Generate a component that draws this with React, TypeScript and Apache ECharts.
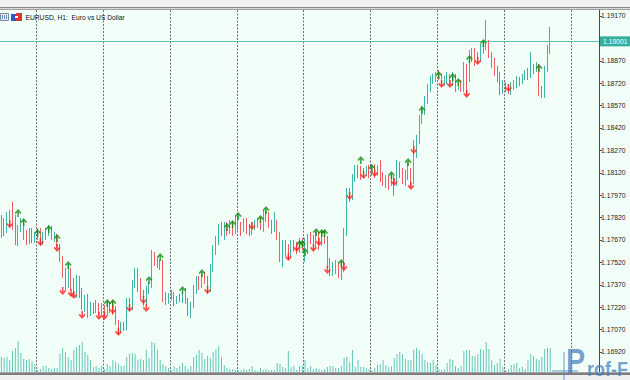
import React, { useEffect, useRef } from "react";
import * as echarts from "echarts";

const OPEN = [
  1.17724, 1.17791, 1.17737, 1.17804, 1.17831, 1.17764, 1.1765, 1.1775, 1.17791, 1.17703,
  1.1767, 1.17724, 1.17684, 1.17697, 1.17737, 1.17657, 1.17697, 1.17724, 1.1775, 1.17684,
  1.17697, 1.1763, 1.1755, 1.17456, 1.17369, 1.17469, 1.17389, 1.17322, 1.17402, 1.17335,
  1.17235, 1.17282, 1.17201, 1.17228, 1.17201, 1.17235, 1.17188, 1.17215, 1.17181, 1.17235,
  1.17208, 1.17188, 1.17121, 1.17067, 1.17101, 1.17081, 1.17255, 1.17215, 1.17369, 1.17456,
  1.17389, 1.17295, 1.17255, 1.17335, 1.17376, 1.17563, 1.17523, 1.17509, 1.17523, 1.17302,
  1.17268, 1.17295, 1.17315, 1.17255, 1.17282, 1.17268, 1.17322, 1.17268, 1.17201, 1.17235,
  1.17335, 1.17402, 1.17369, 1.17429, 1.17402, 1.17349, 1.17483, 1.17603, 1.1767, 1.1775,
  1.17724, 1.17764, 1.17737, 1.17777, 1.17724, 1.17791, 1.1777, 1.17737, 1.17791, 1.1775,
  1.17724, 1.1775, 1.17777, 1.17791, 1.17764, 1.17844, 1.17817, 1.17777, 1.1775, 1.17791,
  1.17703, 1.17617, 1.17636, 1.17603, 1.1757, 1.17636, 1.17617, 1.17603, 1.17657, 1.1763,
  1.17636, 1.17684, 1.1767, 1.1763, 1.17697, 1.17643, 1.1771, 1.1767, 1.17523, 1.17469,
  1.17483, 1.17503, 1.17456, 1.17483, 1.17724, 1.17971, 1.17951, 1.18085, 1.18139, 1.18125,
  1.18099, 1.18125, 1.18139, 1.18112, 1.18152, 1.18112, 1.18139, 1.18085, 1.18058, 1.18072,
  1.18045, 1.18085, 1.18052, 1.18179, 1.18125, 1.18072, 1.18099, 1.18139, 1.18058, 1.18239,
  1.1834, 1.18474, 1.18527, 1.18608, 1.18688, 1.18741, 1.18755, 1.18775, 1.18761, 1.18728,
  1.18741, 1.18768, 1.18728, 1.18775, 1.18688, 1.18715, 1.18688, 1.18795, 1.18741, 1.18889,
  1.18909, 1.18875, 1.18889, 1.18942, 1.18969, 1.18983, 1.18909, 1.18862, 1.18808, 1.18755,
  1.18661, 1.18715, 1.18688, 1.18661, 1.18701, 1.18715, 1.18741, 1.18728, 1.18755, 1.18782,
  1.18768, 1.18808, 1.18822, 1.18835, 1.18661, 1.18634, 1.18808, 1.18942,
];

const HIGH = [
  1.17838, 1.17817, 1.17858, 1.17871, 1.17925, 1.17838, 1.1777, 1.17817, 1.17804, 1.17737,
  1.1775, 1.1775, 1.17724, 1.1775, 1.1775, 1.17724, 1.1775, 1.1777, 1.17764, 1.17724,
  1.1771, 1.17643, 1.17563, 1.17483, 1.17509, 1.17483, 1.17416, 1.17436, 1.17429, 1.17349,
  1.17302, 1.17309, 1.17255, 1.17248, 1.17268, 1.17248, 1.17248, 1.17235, 1.17268, 1.17255,
  1.17268, 1.17228, 1.17134, 1.17121, 1.17121, 1.17282, 1.17282, 1.17402, 1.17483, 1.17483,
  1.17416, 1.17335, 1.17362, 1.17389, 1.17603, 1.1759, 1.1755, 1.17536, 1.17536, 1.17322,
  1.17315, 1.17335, 1.17322, 1.17295, 1.17309, 1.17335, 1.17349, 1.17282, 1.17255, 1.17369,
  1.17429, 1.17429, 1.17456, 1.17456, 1.17429, 1.17509, 1.17636, 1.17697, 1.17777, 1.17791,
  1.17791, 1.17791, 1.17804, 1.17791, 1.17831, 1.17831, 1.17791, 1.17817, 1.17817, 1.17777,
  1.17791, 1.17804, 1.17817, 1.17831, 1.17871, 1.17871, 1.17858, 1.17804, 1.17858, 1.17804,
  1.17724, 1.1767, 1.1767, 1.17643, 1.1767, 1.1767, 1.17657, 1.17684, 1.17684, 1.17684,
  1.1771, 1.17724, 1.17703, 1.17724, 1.17724, 1.17737, 1.17737, 1.17697, 1.1755, 1.17523,
  1.17536, 1.17523, 1.17523, 1.1775, 1.18018, 1.18018, 1.18112, 1.18172, 1.18172, 1.18166,
  1.18152, 1.18166, 1.18172, 1.18179, 1.18179, 1.18172, 1.18206, 1.18125, 1.18105, 1.18099,
  1.18112, 1.18099, 1.18206, 1.18192, 1.18152, 1.18139, 1.18192, 1.18152, 1.1834, 1.18373,
  1.18507, 1.18567, 1.18634, 1.18715, 1.18768, 1.18782, 1.18795, 1.18808, 1.18782, 1.18768,
  1.18795, 1.18782, 1.18795, 1.18782, 1.18728, 1.18741, 1.18862, 1.18849, 1.18942, 1.18956,
  1.18956, 1.18929, 1.18983, 1.19009, 1.19143, 1.19009, 1.18929, 1.18889, 1.18835, 1.18795,
  1.18741, 1.18728, 1.18715, 1.18728, 1.18741, 1.18768, 1.18761, 1.18782, 1.18808, 1.18822,
  1.18929, 1.18849, 1.18862, 1.18849, 1.18701, 1.18835, 1.18976, 1.19096,
];

const LOW = [
  1.17684, 1.17697, 1.17717, 1.1775, 1.17737, 1.17636, 1.1763, 1.17724, 1.1767, 1.17636,
  1.17643, 1.1765, 1.1765, 1.1767, 1.1763, 1.17636, 1.1767, 1.17697, 1.1767, 1.17657,
  1.17617, 1.17523, 1.17416, 1.17335, 1.17349, 1.17335, 1.17295, 1.17282, 1.17282, 1.17201,
  1.17188, 1.17148, 1.17161, 1.17175, 1.17181, 1.17161, 1.17168, 1.17155, 1.17161, 1.17181,
  1.17168, 1.17101, 1.17041, 1.17047, 1.17061, 1.17067, 1.17195, 1.17201, 1.17349, 1.17322,
  1.17268, 1.17228, 1.17235, 1.17309, 1.17349, 1.17496, 1.17483, 1.17469, 1.17255, 1.17235,
  1.17242, 1.17268, 1.17228, 1.17242, 1.17255, 1.17248, 1.17242, 1.17161, 1.17148, 1.17215,
  1.17309, 1.17335, 1.17349, 1.17376, 1.17309, 1.17322, 1.17456, 1.1757, 1.17636, 1.17697,
  1.1767, 1.17697, 1.1771, 1.17697, 1.1771, 1.17737, 1.17697, 1.17724, 1.1771, 1.17697,
  1.17703, 1.17737, 1.1775, 1.17737, 1.17724, 1.17791, 1.1775, 1.1771, 1.17724, 1.1767,
  1.17523, 1.17489, 1.17563, 1.17536, 1.1755, 1.1759, 1.17576, 1.17583, 1.17603, 1.17523,
  1.17576, 1.17643, 1.17603, 1.17617, 1.17603, 1.1763, 1.17643, 1.17483, 1.17429, 1.17429,
  1.17442, 1.17416, 1.17402, 1.17456, 1.17697, 1.17925, 1.17938, 1.18058, 1.18085, 1.18072,
  1.18085, 1.18099, 1.18085, 1.18099, 1.18085, 1.18099, 1.18058, 1.18032, 1.18018, 1.18005,
  1.18032, 1.17965, 1.18032, 1.18085, 1.18045, 1.18032, 1.18072, 1.18018, 1.18045, 1.18219,
  1.18313, 1.18447, 1.18507, 1.18581, 1.18661, 1.18715, 1.18728, 1.18741, 1.18701, 1.18701,
  1.18715, 1.18701, 1.18701, 1.18661, 1.18675, 1.18661, 1.18661, 1.18641, 1.18728, 1.18862,
  1.18835, 1.18849, 1.18862, 1.18916, 1.18942, 1.18889, 1.18822, 1.18768, 1.18728, 1.18641,
  1.18648, 1.18661, 1.18648, 1.18641, 1.18675, 1.18688, 1.18701, 1.18715, 1.18741, 1.18741,
  1.18755, 1.18782, 1.18795, 1.18634, 1.18621, 1.18621, 1.18795, 1.18916,
];

const CLOSE = [
  1.17791, 1.17737, 1.17804, 1.17831, 1.17764, 1.1765, 1.1775, 1.17791, 1.17703, 1.1767,
  1.17724, 1.17684, 1.17697, 1.17737, 1.17657, 1.17697, 1.17724, 1.1775, 1.17684, 1.17697,
  1.1763, 1.1755, 1.17456, 1.17369, 1.17469, 1.17389, 1.17322, 1.17402, 1.17335, 1.17235,
  1.17282, 1.17201, 1.17228, 1.17201, 1.17235, 1.17188, 1.17215, 1.17181, 1.17235, 1.17208,
  1.17188, 1.17121, 1.17067, 1.17101, 1.17081, 1.17255, 1.17215, 1.17369, 1.17456, 1.17389,
  1.17295, 1.17255, 1.17335, 1.17376, 1.17563, 1.17523, 1.17509, 1.17523, 1.17302, 1.17268,
  1.17295, 1.17315, 1.17255, 1.17282, 1.17268, 1.17322, 1.17268, 1.17201, 1.17235, 1.17335,
  1.17402, 1.17369, 1.17429, 1.17402, 1.17349, 1.17483, 1.17603, 1.1767, 1.1775, 1.17724,
  1.17764, 1.17737, 1.17777, 1.17724, 1.17791, 1.1777, 1.17737, 1.17791, 1.1775, 1.17724,
  1.1775, 1.17777, 1.17791, 1.17764, 1.17844, 1.17817, 1.17777, 1.1775, 1.17791, 1.17703,
  1.17617, 1.17636, 1.17603, 1.1757, 1.17636, 1.17617, 1.17603, 1.17657, 1.1763, 1.17636,
  1.17684, 1.1767, 1.1763, 1.17697, 1.17643, 1.1771, 1.1767, 1.17523, 1.17469, 1.17483,
  1.17503, 1.17456, 1.17483, 1.17724, 1.17971, 1.17951, 1.18085, 1.18139, 1.18125, 1.18099,
  1.18125, 1.18139, 1.18112, 1.18152, 1.18112, 1.18139, 1.18085, 1.18058, 1.18072, 1.18045,
  1.18085, 1.18052, 1.18179, 1.18125, 1.18072, 1.18099, 1.18139, 1.18058, 1.18239, 1.1834,
  1.18474, 1.18527, 1.18608, 1.18688, 1.18741, 1.18755, 1.18775, 1.18761, 1.18728, 1.18741,
  1.18768, 1.18728, 1.18775, 1.18688, 1.18715, 1.18688, 1.18795, 1.18741, 1.18889, 1.18909,
  1.18875, 1.18889, 1.18942, 1.18969, 1.18983, 1.18909, 1.18862, 1.18808, 1.18755, 1.18661,
  1.18715, 1.18688, 1.18661, 1.18701, 1.18715, 1.18741, 1.18728, 1.18755, 1.18782, 1.18768,
  1.18808, 1.18822, 1.18835, 1.18661, 1.18634, 1.18808, 1.18942, 1.19001,
];

const VOLUME = [
  15, 14, 15, 12, 21, 24, 31, 19, 13, 12, 13, 11, 8,
  2, 3, 6, 6, 4, 3, 4, 4, 18, 24, 20, 15, 12, 22, 25, 27, 30, 20, 17, 12, 5, 6, 4, 6,
  3, 8, 6, 12, 10, 8, 6, 6, 15, 18, 19, 18, 12, 13, 12, 22, 14, 30, 29, 22, 12, 8, 6, 4,
  2, 6, 4, 6, 9, 6, 3, 6, 15, 17, 22, 19, 13, 16, 14, 20, 23, 26, 15, 7, 4, 3, 3, 2,
  2, 2, 3, 2, 3, 6, 2, 1, 4, 2, 3, 2, 2, 2, 9, 8, 5, 4, 21, 5, 6, 2, 6, 6,
  12, 4, 6, 3, 4, 3, 2, 3, 5, 6, 6, 4, 4, 6, 14, 15, 10, 22, 5, 12, 5, 5, 4, 3,
  2, 4, 7, 8, 12, 7, 5, 6, 14, 18, 20, 18, 13, 12, 12, 22, 24, 22, 18, 12, 10, 9, 12, 7,
  3, 2, 3, 9, 13, 12, 6, 4, 6, 21, 22, 22, 16, 16, 18, 23, 22, 30, 23, 12, 7, 9, 13, 5,
  2, 3, 7, 8, 9, 4, 5, 3, 12, 18, 16, 13, 12, 15, 23, 24, 24,
];

const UP_ARROW_BAR = [
  6, 8, 13, 17, 20, 24, 38, 40, 53, 57, 65, 72, 81, 83, 85, 93, 95, 107, 108, 109,
  113, 115, 116, 122, 129, 133, 140, 146, 151, 157, 162, 164, 168, 173, 193,
];
const UP_ARROW_PRICE = [
  1.17851, 1.17791, 1.17717, 1.17744, 1.17684, 1.17503, 1.17248, 1.17248, 1.17402, 1.17556,
  1.17335, 1.17449, 1.17757, 1.17777, 1.17831, 1.17811, 1.17871, 1.17643, 1.17643, 1.1759,
  1.17724, 1.17717, 1.17717, 1.17516, 1.18206, 1.18152, 1.18105, 1.18192, 1.18541, 1.18775,
  1.18761, 1.18728, 1.18882, 1.18989, 1.18822,
];
const DOWN_ARROW_BAR = [
  3, 14, 20, 22, 25, 26, 29, 35, 37, 40, 42, 46, 51, 52, 74, 90, 103, 106, 112, 114,
  117, 123, 125, 130, 134, 141, 147, 148, 158, 161, 167, 171, 182,
];
const DOWN_ARROW_PRICE = [
  1.17777, 1.17657, 1.17617, 1.17329, 1.17315, 1.17302, 1.17168, 1.17161, 1.17161, 1.17201,
  1.17054, 1.17215, 1.17268, 1.17215, 1.17335, 1.17764, 1.17556, 1.17617, 1.17617, 1.17657,
  1.17469, 1.17489, 1.17965, 1.18105, 1.18119, 1.18058, 1.18032, 1.18273, 1.18715, 1.18715,
  1.18648, 1.18869, 1.18688,
];

const PRICE_TICKS = [
  1.1692, 1.1707, 1.1722, 1.1737, 1.1752, 1.1767, 1.1782, 1.1797, 1.1812, 1.1827,
  1.1842, 1.1857, 1.1872, 1.1887, 1.1917,
];
const CURRENT_PRICE = 1.19001;
const TITLE = "EURUSD, H1:  Euro vs US Dollar";
const WATERMARK_HEAD = "P";
const WATERMARK_TAIL = "rof-F";
const TOTAL_SLOTS = 215;
const SEPARATOR_EVERY = 24;
const SEPARATOR_FIRST = 13;

const FONT = "'Liberation Sans', Arial, sans-serif";
const BULL = "#3DB5A5";
const BEAR = "#F25C5C";

export default function App() {
  const ref = useRef<HTMLDivElement>(null);

  useEffect(() => {
    if (!ref.current) return;
    const chart = echarts.init(ref.current, null, { renderer: "svg" });
    const slots = Array.from({ length: TOTAL_SLOTS }, (_, i) => String(i));
    const candles = OPEN.map((o, i) => [o, CLOSE[i], LOW[i], HIGH[i]]);
    const ups = UP_ARROW_BAR.map((b, k) => [b, UP_ARROW_PRICE[k]]);
    const downs = DOWN_ARROW_BAR.map((b, k) => [b, DOWN_ARROW_PRICE[k]]);

    const upPath =
      "path://M5 0 L10 5 L8.4 6.4 L6.1 4.1 L6.1 10 L3.9 10 L3.9 4.1 L1.6 6.4 L0 5 Z";
    const downPath =
      "path://M5 10 L10 5 L8.4 3.6 L6.1 5.9 L6.1 0 L3.9 0 L3.9 5.9 L1.6 3.6 L0 5 Z";

    chart.setOption({
      animation: false,
      backgroundColor: "#F2FFF8",
      grid: [
        { left: 0, right: 31, top: 10, bottom: 8, containLabel: false },
        { left: 0, right: 31, top: 332, bottom: 8, containLabel: false },
      ],
      xAxis: [
        {
          type: "category",
          gridIndex: 0,
          data: slots,
          boundaryGap: true,
          axisLine: { show: false },
          axisTick: { show: false },
          axisLabel: { show: false },
          splitLine: {
            show: true,
            interval: (idx: number) =>
              idx >= SEPARATOR_FIRST && (idx - SEPARATOR_FIRST) % SEPARATOR_EVERY === 0,
            lineStyle: { color: "#707070", width: 1, type: [2, 1.5] },
          },
        },
        {
          type: "category",
          gridIndex: 1,
          data: slots,
          boundaryGap: true,
          axisLine: { show: false },
          axisTick: { show: false },
          axisLabel: { show: false },
          splitLine: { show: false },
        },
      ],
      yAxis: [
        {
          type: "value",
          gridIndex: 0,
          position: "right",
          min: 1.16786,
          max: 1.1921,
          scale: true,
          splitLine: { show: false },
          axisLine: { show: true, lineStyle: { color: "#4A4A4A", width: 1 } },
          axisTick: {
            show: true,
            length: 3,
            customValues: PRICE_TICKS,
            lineStyle: { color: "#4A4A4A" },
          },
          axisLabel: {
            show: true,
            customValues: PRICE_TICKS,
            formatter: (v: number) => v.toFixed(5),
            fontSize: 6.8,
            fontFamily: FONT,
            color: "#222",
            margin: 2,
          },
        },
        {
          type: "value",
          gridIndex: 1,
          min: 0,
          max: 40,
          show: false,
          splitLine: { show: false },
        },
      ],
      series: [
        {
          type: "bar",
          xAxisIndex: 1,
          yAxisIndex: 1,
          data: VOLUME,
          barWidth: 1,
          itemStyle: { color: "#62C6B8" },
          silent: true,
        },
        {
          type: "candlestick",
          xAxisIndex: 0,
          yAxisIndex: 0,
          data: candles,
          barWidth: 1.3,
          itemStyle: {
            color: BULL,
            color0: BEAR,
            borderColor: BULL,
            borderColor0: BEAR,
            borderWidth: 1,
          },
          silent: true,
          markLine: {
            silent: true,
            symbol: ["none", "none"],
            lineStyle: { color: "#5CC2B3", width: 1, type: "solid" },
            label: {
              show: true,
              position: "end",
              distance: 1,
              formatter: CURRENT_PRICE.toFixed(5),
              backgroundColor: "#35AE9E",
              color: "#ffffff",
              fontSize: 6.8,
              fontFamily: FONT,
              padding: [2, 3, 1, 3],
            },
            data: [{ yAxis: CURRENT_PRICE }],
          },
        },
        {
          type: "scatter",
          xAxisIndex: 0,
          yAxisIndex: 0,
          data: ups,
          symbol: upPath,
          symbolSize: [7, 8],
          itemStyle: { color: "#138A13" },
          silent: true,
          z: 5,
        },
        {
          type: "scatter",
          xAxisIndex: 0,
          yAxisIndex: 0,
          data: downs,
          symbol: downPath,
          symbolSize: [7, 8],
          itemStyle: { color: "#FF1E1E" },
          silent: true,
          z: 5,
        },
      ],
      graphic: [
        { type: "rect", shape: { x: 0, y: 0, width: 630, height: 7 }, style: { fill: "#F0F0F0" }, z: 100 },
        { type: "rect", shape: { x: 0, y: 7, width: 630, height: 1 }, style: { fill: "#8A8A8A" }, z: 100 },
        { type: "rect", shape: { x: 0, y: 8, width: 630, height: 1 }, style: { fill: "#D8D8D8" }, z: 100 },
        { type: "rect", shape: { x: 0, y: 9, width: 630, height: 1 }, style: { fill: "#A0A0A0" }, z: 100 },
        { type: "rect", shape: { x: 0, y: 372, width: 630, height: 1 }, style: { fill: "#A8A8A8" }, z: 100 },
        { type: "rect", shape: { x: 0, y: 373, width: 630, height: 2 }, style: { fill: "#7E7E7E" }, z: 100 },
        { type: "rect", shape: { x: 0, y: 375, width: 630, height: 5 }, style: { fill: "#F0F0F0" }, z: 100 },
        // title icons
        { type: "rect", shape: { x: 0.5, y: 13.5, width: 8, height: 7 }, style: { fill: "#E4ECF6", stroke: "#7D8A9C", lineWidth: 1 }, z: 101 },
        { type: "rect", shape: { x: 2, y: 15, width: 1, height: 4 }, style: { fill: "#6F93C8" }, z: 101 },
        { type: "rect", shape: { x: 4, y: 15, width: 1, height: 4 }, style: { fill: "#6F93C8" }, z: 101 },
        { type: "rect", shape: { x: 6, y: 15, width: 1, height: 4 }, style: { fill: "#6F93C8" }, z: 101 },
        { type: "rect", shape: { x: 11, y: 14, width: 5, height: 7 }, style: { fill: "#2F56C8" }, z: 101 },
        { type: "rect", shape: { x: 16, y: 13, width: 6, height: 8 }, style: { fill: "#E03434" }, z: 101 },
        { type: "rect", shape: { x: 15, y: 16, width: 3, height: 2 }, style: { fill: "#F4F4F4" }, z: 101 },
        {
          type: "text",
          x: 25.5,
          y: 17.5,
          style: { text: TITLE, fill: "#111", font: `6.7px ${FONT}`, textVerticalAlign: "middle" },
          z: 101,
        },
        // watermark logo
        { type: "rect", shape: { x: 563, y: 352, width: 2, height: 28 }, style: { fill: "rgba(90,140,200,0.45)" }, z: 102 },
        { type: "rect", shape: { x: 552, y: 370, width: 26, height: 2 }, style: { fill: "rgba(90,140,200,0.45)" }, z: 102 },
        {
          type: "text",
          x: 566,
          y: 378,
          scaleX: 0.8,
          style: {
            text: WATERMARK_HEAD,
            fill: "rgba(70,125,190,0.72)",
            font: `bold 36px ${FONT}`,
            textVerticalAlign: "bottom",
          },
          z: 102,
        },
        {
          type: "text",
          x: 587,
          y: 379,
          scaleX: 0.9,
          style: {
            text: WATERMARK_TAIL,
            fill: "rgba(70,125,190,0.72)",
            font: `bold 20px ${FONT}`,
            textVerticalAlign: "bottom",
          },
          z: 102,
        },
      ],
    });

    return () => chart.dispose();
  }, []);

  return (
    <div
      ref={ref}
      style={{ position: "fixed", left: 0, top: 0, width: 630, height: 380, background: "#F2FFF8" }}
    />
  );
}
